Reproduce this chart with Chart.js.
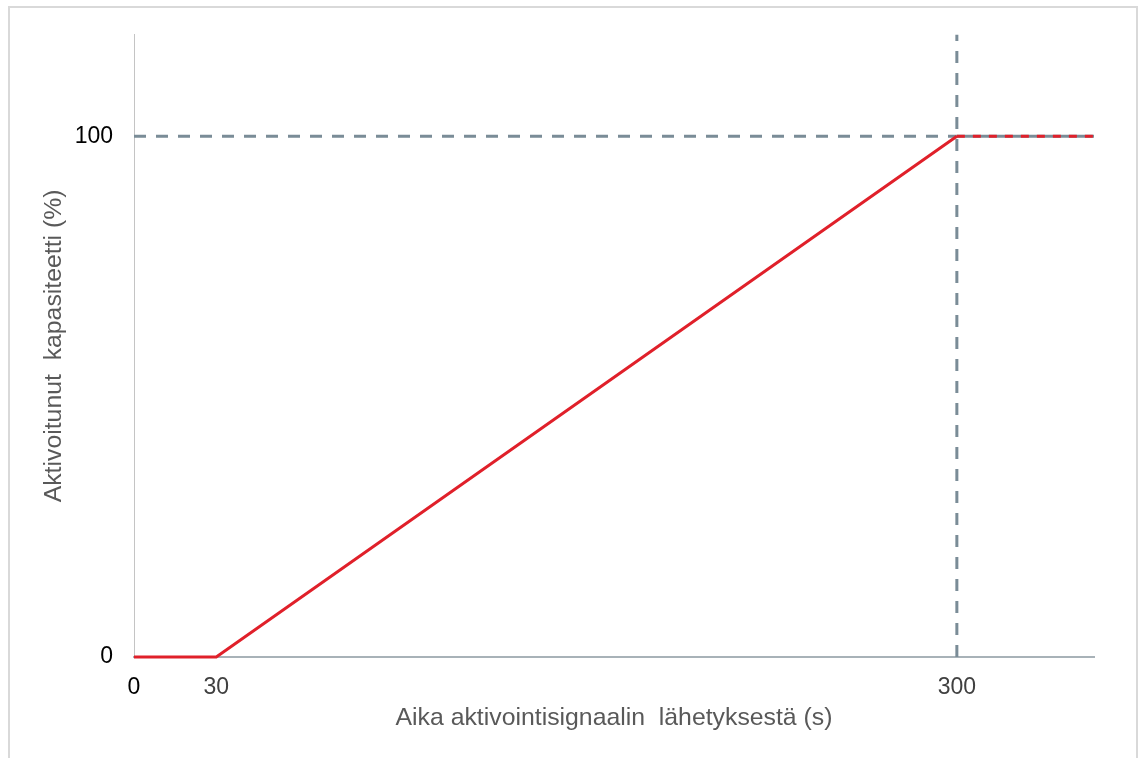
<!DOCTYPE html>
<html><head><meta charset="utf-8">
<script src="https://cdn.jsdelivr.net/npm/chart.js@4"></script>
<style>
html,body{margin:0;padding:0;background:#fff;overflow:hidden;}
#frame{position:absolute;left:8px;top:6px;width:1126px;height:800px;border:2px solid #d9d9d9;}
#wrap{position:absolute;left:0;top:0;width:1141px;height:758px;}
</style></head>
<body>
<div id="frame"></div>
<div id="wrap"><canvas id="c" width="1141" height="758"></canvas></div>
<script>
// Data
const activationTime = [0, 30, 300, 350];          // s
const activatedCapacity = [0, 0, 100, 100];        // %
const refLevelX = [0, 300, 350];
const refLevelY = [100, 100, 100];
const refTimeX = [300, 300];
const refTimeY = [0, 119.5];
const xTickValues = [0, 30, 300];
const yTickValues = [0, 100];
const xTitle = 'Aika aktivointisignaalin  lähetyksestä (s)';
const yTitle = 'Aktivoitunut  kapasiteetti (%)';

const toPts = (xs, ys) => xs.map((x, i) => ({x, y: ys[i]}));
const RED = '#e0202a';
const GREY = '#7a8c97';
const FONT = 'Liberation Sans, Arial, sans-serif';

new Chart(document.getElementById('c'), {
  type: 'line',
  data: {
    datasets: [
      {
        data: toPts(activationTime, activatedCapacity),
        borderColor: RED, borderWidth: 3, pointRadius: 0, tension: 0, clip: false, order: 0,
        segment: { borderDash: ctx => ctx.p0.parsed.x >= 300 ? [8, 8] : undefined }
      },
      {
        data: toPts(refLevelX, refLevelY),
        borderColor: GREY, borderWidth: 3, borderDash: [12, 10], pointRadius: 0, clip: false, order: 1,
        segment: { borderDash: ctx => ctx.p0.parsed.x >= 300 ? [] : [12, 10] }
      },
      {
        data: toPts(refTimeX, refTimeY),
        borderColor: GREY, borderWidth: 3, borderDash: [12, 10], pointRadius: 0, clip: false, order: 2
      }
    ]
  },
  options: {
    responsive: false,
    animation: false,
    layout: { padding: { top: 33, right: 47, left: 0, bottom: 0 } },
    plugins: { legend: { display: false }, tooltip: { enabled: false } },
    scales: {
      x: {
        type: 'linear', min: 0, max: 350,
        afterBuildTicks: s => { s.ticks = xTickValues.map(v => ({value: v})); },
        afterFit: s => { s.height = 101; },
        grid: { display: false, drawTicks: false },
        border: { display: true, color: '#a8b2b8', width: 2 },
        ticks: {
          padding: 17,
          font: { family: FONT, size: 23 },
          color: c => c.tick && c.tick.value === 0 ? '#000000' : '#404040',
          callback: v => String(v)
        },
        title: {
          display: true, text: xTitle, color: '#595959',
          font: { family: FONT, size: 24.8 },
          padding: { top: 0, bottom: 25 }
        }
      },
      y: {
        type: 'linear', min: 0, max: 119.5,
        afterBuildTicks: s => { s.ticks = yTickValues.map(v => ({value: v})); },
        afterFit: s => { s.width = 134; },
        grid: { display: false, drawTicks: false },
        border: { display: true, color: '#c4c4c4', width: 1 },
        ticks: {
          padding: 21,
          font: { family: FONT, size: 23 },
          color: '#000000',
          callback: v => String(v)
        },
        title: {
          display: true, text: yTitle, color: '#595959',
          font: { family: FONT, size: 24.8 },
          padding: { top: 39, bottom: 0 }
        }
      }
    }
  }
});
</script>
</body></html>
